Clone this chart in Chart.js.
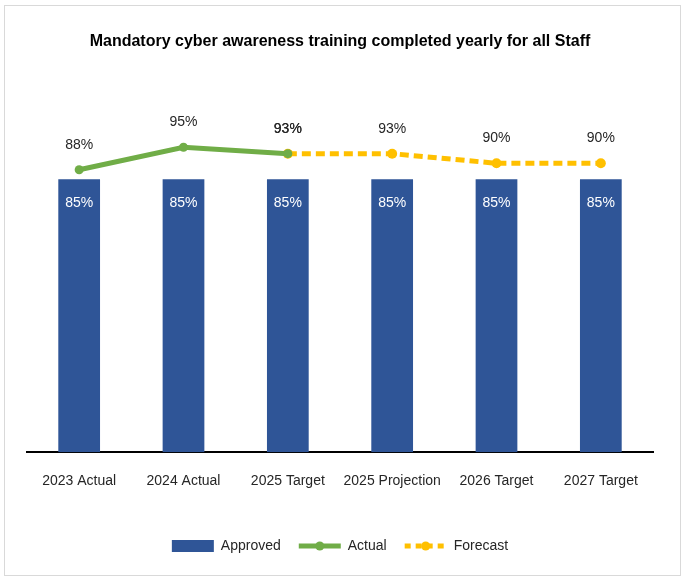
<!DOCTYPE html>
<html lang="en">
<head>
<meta charset="UTF-8">
<title>Mandatory cyber awareness training</title>
<script src="https://cdn.jsdelivr.net/npm/chart.js"></script>
<style>
  html, body { margin: 0; padding: 0; background: #fff; }
  #frame { position: absolute; left: 4px; top: 5px; width: 675px; height: 569px; border: 1px solid #d9d9d9; }
  #chart { position: absolute; left: 0; top: 0; }
</style>
</head>
<body>
<div id="frame"></div>
<canvas id="chart" width="683" height="578"></canvas>
<script>
  // chart data
  const categories = ["2023 Actual", "2024 Actual", "2025 Target", "2025 Projection", "2026 Target", "2027 Target"];
  const approved = [85, 85, 85, 85, 85, 85];
  const actual = [88, 95, 93, null, null, null];
  const forecast = [null, null, 93, 93, 90, 90];

  const textColor = "#262626";
  const fontFamily = "'Liberation Sans', Arial, sans-serif";
  Chart.defaults.font.family = fontFamily;
  Chart.defaults.color = textColor;

  // percent labels on bars and points
  const valueLabels = {
    id: "valueLabels",
    afterDatasetsDraw(chart) {
      const ctx = chart.ctx;
      ctx.save();
      ctx.font = "14px " + fontFamily;
      ctx.textAlign = "center";
      ctx.textBaseline = "middle";
      chart.data.datasets.forEach((ds, i) => {
        const meta = chart.getDatasetMeta(i);
        meta.data.forEach((el, j) => {
          const v = ds.data[j];
          if (v == null) return;
          if (ds.type === "bar") {
            ctx.fillStyle = "#ffffff";
            ctx.fillText(v + "%", el.x, el.y + 24);
          } else {
            ctx.fillStyle = textColor;
            ctx.fillText(v + "%", el.x, el.y - 25);
          }
        });
      });
      ctx.restore();
    },
    afterDraw(chart) {
      // marker dot in the middle of the line legend entries
      const legend = chart.legend;
      if (!legend || !legend.legendHitBoxes) return;
      const ctx = chart.ctx;
      legend.legendItems.forEach((item, k) => {
        if (item.datasetIndex === 0) return;
        const box = legend.legendHitBoxes[k];
        ctx.save();
        ctx.fillStyle = item.strokeStyle;
        ctx.beginPath();
        ctx.arc(box.left + 21, box.top + 7, 4.5, 0, Math.PI * 2);
        ctx.fill();
        ctx.restore();
      });
    }
  };

  new Chart(document.getElementById("chart"), {
    data: {
      labels: categories,
      datasets: [
        {
          type: "bar",
          label: "Approved",
          data: approved,
          backgroundColor: "#2F5597",
          categoryPercentage: 0.8,
          barPercentage: 0.5
        },
        {
          type: "line",
          label: "Actual",
          data: actual,
          borderColor: "#70AD47",
          backgroundColor: "#70AD47",
          borderWidth: 5,
          pointRadius: 4.5,
          pointBorderWidth: 0,
          tension: 0
        },
        {
          type: "line",
          label: "Forecast",
          data: forecast,
          borderColor: "#FFC000",
          backgroundColor: "#FFC000",
          borderWidth: 5,
          borderDash: [9, 5],
          pointRadius: 5,
          pointBorderWidth: 0,
          tension: 0
        }
      ]
    },
    options: {
      responsive: false,
      animation: false,
      layout: { padding: { left: 27, right: 30, top: 0, bottom: 15 } },
      plugins: {
        title: {
          display: true,
          text: "Mandatory cyber awareness training completed yearly for all Staff",
          color: "#000000",
          font: { size: 16, weight: "bold" },
          padding: { top: 32, bottom: 80 }
        },
        legend: {
          position: "bottom",
          labels: {
            usePointStyle: true,
            pointStyleWidth: 42,
            boxHeight: 12,
            padding: 18,
            font: { size: 14 },
            color: textColor,
            generateLabels(chart) {
              const items = Chart.defaults.plugins.legend.labels.generateLabels(chart);
              items.forEach(it => {
                const ds = chart.data.datasets[it.datasetIndex];
                if (ds.type === "bar") {
                  it.pointStyle = "rect";
                  it.lineWidth = 0;
                } else {
                  it.pointStyle = "line";
                  it.lineWidth = ds.borderWidth;
                  it.strokeStyle = ds.borderColor;
                  it.lineDash = ds.borderDash ? [6, 5] : [];
                }
              });
              return items;
            }
          }
        },
        tooltip: { enabled: false }
      },
      scales: {
        x: {
          grid: { display: false, drawTicks: false },
          border: { display: true, color: "#000000", width: 2 },
          ticks: { padding: 21, autoSkip: false, font: { size: 14 }, color: textColor, maxRotation: 0 },
          afterFit(scale) { scale.height += 10; }
        },
        y: {
          display: false,
          min: 0,
          max: 100
        }
      }
    },
    plugins: [valueLabels]
  });
</script>
</body>
</html>
